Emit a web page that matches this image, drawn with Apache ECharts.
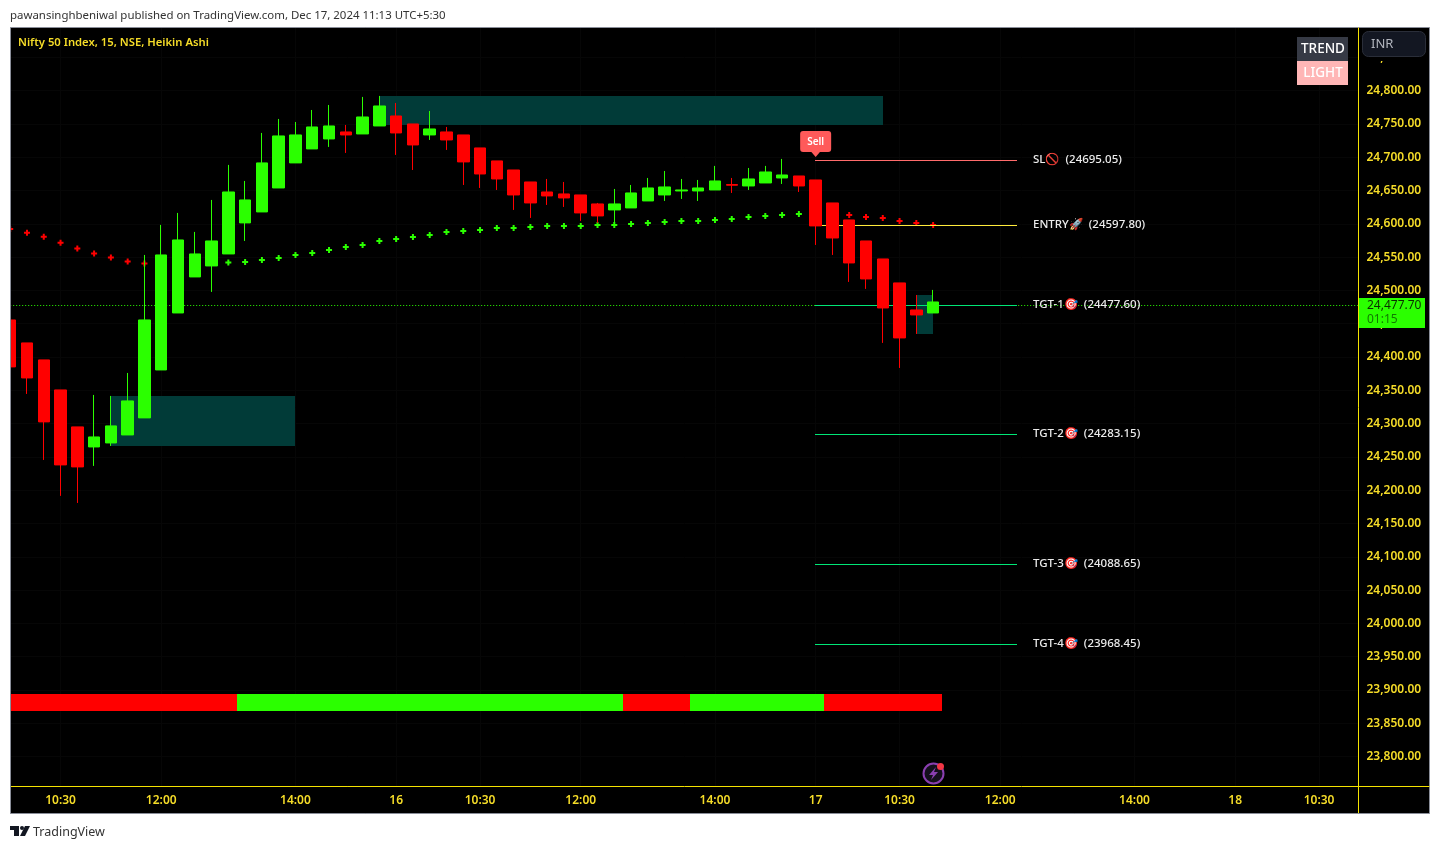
<!DOCTYPE html>
<html>
<head>
<meta charset="utf-8">
<title>Nifty 50 Index</title>
<style>html,body{margin:0;padding:0;background:#fff;}#c{width:1440px;height:849px;}</style>
<script src="https://cdn.jsdelivr.net/npm/echarts@6/dist/echarts.min.js"></script>
</head>
<body>
<div id="c"></div>
<script>
const opens  = [24455.7,24421.2,24395.7,24350.6,24295.1,24265,24271,24283,24308.6,24380.6,24466.2,24520.3,24536.8,24554.8,24601.4,24617.9,24653.9,24691.5,24712.5,24727.5,24738,24735,24747,24762,24750,24733.5,24738,24733.5,24714,24694.5,24680.9,24662.9,24647.9,24644.9,24643.4,24629.9,24620.9,24623.9,24634.4,24643.4,24649.4,24649.4,24650.9,24659,24656.9,24661.4,24668.9,24671.9,24665.9,24631.4,24605.9,24574.3,24547.3,24511.3,24470.7,24466.2];
const closes = [24385.2,24368.6,24302.6,24238,24235,24280,24296.6,24334.1,24455.7,24553.3,24575.8,24554.8,24574.3,24647.9,24635.9,24691.5,24732,24733.5,24745.5,24747,24733.5,24760.5,24777,24736.5,24718.5,24742.5,24726,24693,24674.9,24667.4,24643.4,24631.4,24641.9,24638.9,24616.4,24611.9,24629.9,24646.4,24653.9,24655.4,24650.9,24653.9,24664.4,24658,24667.4,24677.9,24673.4,24656.9,24596.9,24578.8,24541.3,24517.3,24473.7,24428.7,24463.2,24482.7];
const lows   = [24365.6,24344.6,24245.5,24191.5,24180.9,24236.5,24266.5,24283,24308.6,24380.6,24466.2,24520.3,24497.8,24554.8,24574.3,24617.9,24653.9,24691.5,24712.5,24715.5,24706.5,24735,24747,24703.5,24680.9,24726,24711,24658.4,24653.9,24650.9,24620.9,24608.9,24628.4,24625.4,24604.4,24601.4,24598.4,24623.9,24634.4,24634.4,24637.4,24634.4,24650.9,24646.4,24650.9,24661.4,24659.9,24647.9,24568.3,24553.3,24512.8,24502.3,24421.2,24383.6,24434.7,24466.2];
const highs  = [24455.7,24421.2,24395.7,24350.6,24295.1,24343.1,24341.6,24376.1,24553.3,24598.4,24616.4,24587.9,24635.9,24688.5,24664.4,24736.5,24757.5,24753,24771,24778.5,24748.5,24790.6,24792.1,24781.5,24750,24769.5,24745.5,24733.5,24714,24694.5,24680.9,24662.9,24667.4,24662.9,24643.4,24631.4,24652.4,24658.4,24668.9,24679.4,24667.4,24665.9,24687,24668.9,24683.9,24687,24697.5,24671.9,24665.9,24631.4,24605.9,24574.3,24547.3,24511.3,24493.2,24500.8];
const sarDown = [24592.4,24586.8,24580.8,24571.8,24562.8,24555.3,24549.3,24543.3,24540.3,null,null,null,null,null,null,null,null,null,null,null,null,null,null,null,null,null,null,null,null,null,null,null,null,null,null,null,null,null,null,null,null,null,null,null,null,null,null,null,null,null,24613.4,24610.4,24608.9,24604.4,24601.4,24598.4];
const sarUp = [null,null,null,null,null,null,null,null,null,null,null,null,null,24541.8,24542.8,24545.8,24548.8,24553.3,24556.3,24560.8,24565.3,24568.3,24574.3,24577.3,24580.3,24583.3,24587.9,24589.4,24590.9,24593.9,24593.9,24595.4,24596.9,24596.9,24596.9,24598.4,24598.4,24599.9,24601.4,24602.9,24604.4,24604.4,24605.9,24607.4,24610.4,24611.9,24613.4,24614.9];
const trendState = [0,0,0,0,0,0,0,0,0,0,0,0,0,0,1,1,1,1,1,1,1,1,1,1,1,1,1,1,1,1,1,1,1,1,1,1,1,0,0,0,0,1,1,1,1,1,1,1,1,0,0,0,0,0,0,0];
const trendBand = [23868, 23894];
const zoneBoxes = [[6,17,24267,24341.6],[22,52,24748.5,24792],[54,55,24434,24493]];
const levelNames = ['SL🚫','ENTRY🚀','TGT-1🎯','TGT-2🎯','TGT-3🎯','TGT-4🎯'];
const levelValues = [24695.05,24597.80,24477.60,24283.15,24088.65,23968.45];
const levelColors = ['#ff6b6b','#ffeb3b','#00e676','#00e676','#00e676','#00e676'];
const levelSpan = [48,60];
const sellPoint = [48,24705.7];
const lastPrice = 24477.7;
const yTicks = [23800,23850,23900,23950,24000,24050,24100,24150,24200,24250,24300,24350,24400,24450,24500,24550,24600,24650,24700,24750,24800,24850];
const xTickIndex = [3,9,17,23,28,34,42,48,53,59,67,73,78];
const xTickLabels = ['10:30','12:00','14:00','16','10:30','12:00','14:00','17','10:30','12:00','14:00','18','10:30'];

const FONT = '"Noto Sans", sans-serif';
const YEL = '#f5dc28';
const GREEN = '#2bff00';
const RED = '#ff0000';
const CROSS = 'path://M2,0H4V2H6V4H4V6H2V4H0V2H2Z';

const chart = echarts.init(document.getElementById('c'), null, {renderer:'canvas', width:1440, height:849});

function rectOf(api, x0, x1, lo, hi){
  const a = api.coord([x0, hi]), b = api.coord([x1, lo]);
  const l = Math.round(a[0]), r = Math.round(b[0]), t = Math.round(a[1]), d = Math.round(b[1]);
  return {x:l, y:t, width:r-l, height:d-t};
}

chart.setOption({
  animation:false,
  backgroundColor:'#ffffff',
  grid:{left:10.2,top:28,width:1348.3,height:758.5,containLabel:false},
  xAxis:{type:'value',min:0,max:80.35,
    axisLine:{onZero:false,lineStyle:{color:'#f5e300',width:1}},
    axisTick:{show:false,customValues:xTickIndex},
    splitLine:{show:true,lineStyle:{color:'#060606',width:1}},
    axisLabel:{customValues:xTickIndex,color:YEL,fontFamily:FONT,fontSize:12,fontWeight:600,margin:8,
      showMinLabel:true,showMaxLabel:true,
      formatter:(v)=>{const k=xTickIndex.indexOf(v);return k>=0?xTickLabels[k]:'';}}
  },
  yAxis:{type:'value',position:'right',min:23755.1,max:24894.1,
    axisLine:{show:true,onZero:false,lineStyle:{color:'#f5e300',width:1}},
    axisTick:{show:false,customValues:yTicks},
    splitLine:{show:true,lineStyle:{color:'#060606',width:1}},
    axisLabel:{customValues:yTicks,color:YEL,fontFamily:FONT,fontSize:12,fontWeight:600,margin:8,
      formatter:(v)=>v.toLocaleString('en-US',{minimumFractionDigits:2,maximumFractionDigits:2})}
  },
  series:[
    {type:'custom',name:'zones',silent:true,z:1,clip:true,
      data:zoneBoxes,encode:{x:[0,1],y:[2,3]},
      renderItem:(p,api)=>({type:'rect',shape:rectOf(api,api.value(0),api.value(1),api.value(2),api.value(3)),style:{fill:'#013b38'}})},
    {type:'scatter',name:'sarDown',silent:true,z:2,symbol:CROSS,symbolSize:6,
      data:sarDown.map((v,i)=>[i,v]).filter(d=>d[1]!==null),itemStyle:{color:RED,opacity:1}},
    {type:'scatter',name:'sarUp',silent:true,z:2,symbol:CROSS,symbolSize:6,
      data:sarUp.map((v,i)=>[i,v]).filter(d=>d[1]!==null),itemStyle:{color:GREEN,opacity:1}},
    {type:'custom',name:'trend',silent:true,z:3,clip:true,
      data:trendState.map((s,i)=>[i,s]),encode:{x:0},
      renderItem:(p,api)=>{const i=api.value(0);return {type:'rect',
        shape:rectOf(api,Math.max(0,i-0.5),i+0.5,trendBand[0],trendBand[1]),
        style:{fill:api.value(1)?GREEN:RED}};}},
    {type:'custom',name:'levels',silent:true,z:4,clip:false,
      data:levelValues.map((v,i)=>[levelSpan[0],levelSpan[1],v,i]),encode:{x:[0,1],y:2},
      renderItem:(p,api)=>{
        const a=api.coord([api.value(0),api.value(2)]), b=api.coord([api.value(1),api.value(2)]);
        const i=api.value(3), y=Math.floor(a[1]);
        return {type:'group',children:[
          {type:'rect',shape:{x:Math.floor(a[0]),y:y,width:Math.round(b[0]-a[0])+1,height:1},style:{fill:levelColors[i]}},
          {type:'text',style:{x:b[0]+16,y:y,text:levelNames[i]+'  ('+levelValues[i].toFixed(2)+')',fill:'#ececec',
            font:'500 11.5px '+FONT,verticalAlign:'middle',align:'left'}}
        ]};
      }},
    {type:'custom',name:'last',silent:true,z:3,clip:false,
      data:[[0,80.35,lastPrice]],encode:{x:[0,1],y:2},
      renderItem:(p,api)=>{
        const a=api.coord([api.value(0),api.value(2)]), b=api.coord([api.value(1),api.value(2)]);
        const y=Math.floor(a[1])+0.5;
        return {type:'line',shape:{x1:a[0],y1:y,x2:b[0],y2:y},style:{stroke:GREEN,lineWidth:1,lineDash:[1,2]}};
      }},
    {type:'candlestick',name:'Nifty',silent:true,z:5,barWidth:12,
      encode:{x:0,y:[1,2,3,4]},
      data:opens.map((o,i)=>[i,o,closes[i],lows[i],highs[i]]),
      itemStyle:{color:GREEN,color0:RED,borderColor:GREEN,borderColor0:RED,borderWidth:1}},
    {type:'scatter',name:'sell',silent:true,z:6,symbol:'triangle',symbolRotate:180,symbolSize:[12,7],
      data:[sellPoint],itemStyle:{color:'#ff5a5a',opacity:1},
      label:{show:true,position:'top',distance:-2,formatter:'Sell',color:'#fff',fontFamily:FONT,fontSize:10,fontWeight:600,
        backgroundColor:'#ff5a5a',borderRadius:3,padding:[6,7,5,7]}}
  ],
  graphic:[
    {type:'rect',z:-10,silent:true,shape:{x:10.5,y:27.5,width:1419,height:786},style:{fill:'#000',stroke:'#8a8e99',lineWidth:1}},
    {type:'rect',z:90,silent:true,shape:{x:0,y:28,width:10,height:786},style:{fill:'#fff'}},
    {type:'line',z:91,silent:true,shape:{x1:10.5,y1:27.5,x2:10.5,y2:813.5},style:{stroke:'#8a8e99',lineWidth:1}},
    {type:'text',z:100,silent:true,left:10,top:10,style:{text:'pawansinghbeniwal published on TradingView.com, Dec 17, 2024 11:13 UTC+5:30',fill:'#333',font:'11.45px '+FONT}},
    {type:'text',z:100,silent:true,left:18,top:37,style:{text:'Nifty 50 Index, 15, NSE, Heikin Ashi',fill:YEL,font:'600 11.25px '+FONT}},
    {type:'line',z:20,silent:true,shape:{x1:1358.5,y1:786,x2:1358.5,y2:813},style:{stroke:'#f5e300',lineWidth:1}},
    {type:'line',z:20,silent:true,shape:{x1:1358,y1:786.5,x2:1429.5,y2:786.5},style:{stroke:'#f5e300',lineWidth:1}},
    {type:'rect',z:100,silent:true,shape:{x:1297,y:37,width:51,height:24},style:{fill:'#363a45'}},
    {type:'rect',z:100,silent:true,shape:{x:1297,y:61,width:51,height:24},style:{fill:'#ffb6b6'}},
    {type:'text',z:101,silent:true,x:1323,y:49,style:{text:'TREND',fill:'#fff',font:'500 13.5px '+FONT,align:'center',verticalAlign:'middle'}},
    {type:'text',z:101,silent:true,x:1323,y:73,style:{text:'LIGHT',fill:'#fff',font:'500 13.5px '+FONT,align:'center',verticalAlign:'middle'}},
    {type:'rect',z:99,silent:true,shape:{x:1359,y:28,width:70,height:33},style:{fill:'#000'}},
    {type:'rect',z:100,silent:true,shape:{x:1362.5,y:31.5,width:63,height:25,r:6},style:{fill:'#131722',stroke:'#2a2e39',lineWidth:1}},
    {type:'text',z:101,silent:true,x:1371,y:44,style:{text:'INR',fill:'#b2b5be',font:'13px '+FONT,verticalAlign:'middle'}},
    {type:'rect',z:100,silent:true,shape:{x:1359,y:298,width:66,height:30},style:{fill:GREEN}},
    {type:'text',z:101,silent:true,x:1367,y:305.5,style:{text:'24,477.70',fill:'#0b2e00',font:'12px '+FONT,verticalAlign:'middle'}},
    {type:'text',z:101,silent:true,x:1367,y:319.5,style:{text:'01:15',fill:'#107a00',font:'12px '+FONT,verticalAlign:'middle'}},
    {type:'circle',z:100,silent:true,shape:{cx:933.5,cy:773.5,r:10},style:{fill:'#14101c',stroke:'#8a3fb0',lineWidth:2}},
    {type:'polygon',z:101,silent:true,shape:{points:[[936,767],[929,775],[933,775],[931,780],[938,772],[934,772]]},style:{fill:'#8a3fb0'}},
    {type:'circle',z:102,silent:true,shape:{cx:940.5,cy:766.5,r:3.5},style:{fill:'#f23645'}},
    {type:'polygon',z:100,silent:true,shape:{points:[[10,826],[19,826],[19,836],[14,836],[14,830],[10,830]]},style:{fill:'#131722'}},
    {type:'circle',z:100,silent:true,shape:{cx:22,cy:828,r:2},style:{fill:'#131722'}},
    {type:'polygon',z:100,silent:true,shape:{points:[[25,826],[30,826],[25,836],[20,836]]},style:{fill:'#131722'}},
    {type:'text',z:100,silent:true,left:33,top:826,style:{text:'TradingView',fill:'#333',font:'12.5px '+FONT}}
  ]
});
</script>
</body>
</html>
